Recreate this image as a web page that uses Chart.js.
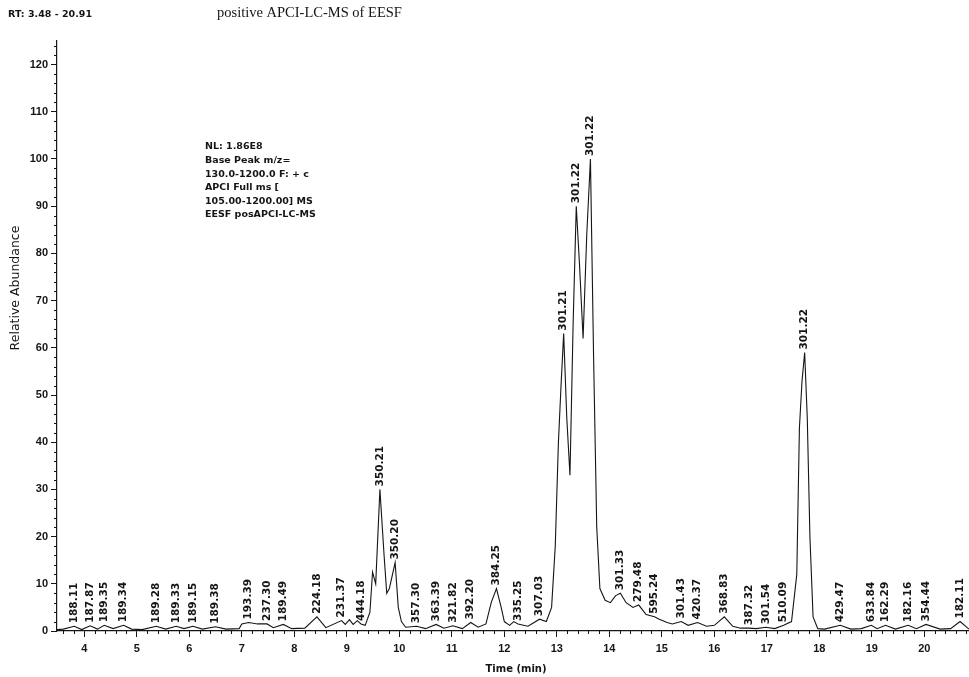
<!DOCTYPE html>
<html>
<head>
<meta charset="utf-8">
<script src="https://cdn.jsdelivr.net/npm/chart.js@4.4.1/dist/chart.umd.min.js"></script>
<style>
  html, body { margin: 0; padding: 0; background: #fff; overflow: hidden; }
  #wrap { position: relative; width: 969px; height: 677px; }
  canvas { display: block; }
</style>
</head>
<body>
<div id="wrap"><canvas id="chart" width="969" height="677"></canvas></div>
<script>
// Base peak chromatogram, retention time (min) vs relative abundance (%)
const rtTimes = [
  3.48, 3.6, 3.81, 3.95, 4.11, 4.25, 4.38, 4.55, 4.75, 4.9, 5.1, 5.37, 5.55, 5.75, 5.9,
  6.07, 6.25, 6.5, 6.7, 6.95, 7.0, 7.13, 7.3, 7.48, 7.6, 7.79, 7.95, 8.2, 8.43, 8.6,
  8.9, 8.97, 9.05, 9.12, 9.2, 9.27, 9.35, 9.44, 9.49, 9.55, 9.63, 9.71, 9.76, 9.81, 9.92,
  9.98, 10.04, 10.12, 10.33, 10.5, 10.7, 10.85, 11.02, 11.2, 11.36, 11.5, 11.65, 11.75, 11.85, 11.94,
  12.0, 12.1, 12.18, 12.26, 12.45, 12.67, 12.8, 12.9, 12.97, 13.03, 13.08, 13.13, 13.19, 13.25, 13.31,
  13.37, 13.43, 13.5, 13.57, 13.64, 13.7, 13.76, 13.82, 13.92, 14.02, 14.12, 14.21, 14.32, 14.45, 14.56,
  14.7, 14.86, 14.95, 15.1, 15.2, 15.37, 15.5, 15.68, 15.85, 16.0, 16.19, 16.35, 16.5, 16.66, 16.8,
  16.98, 17.15, 17.32, 17.47, 17.57, 17.62, 17.67, 17.72, 17.77, 17.82, 17.88, 17.97, 18.1, 18.4, 18.6,
  18.8, 18.99, 19.1, 19.26, 19.45, 19.69, 19.85, 20.03, 20.3, 20.5, 20.68, 20.85
];
const abundance = [
  0.3, 0.4, 1.0, 0.3, 1.1, 0.4, 1.2, 0.5, 1.2, 0.4, 0.3, 1.0, 0.4, 1.0, 0.5,
  1.0, 0.4, 0.9, 0.4, 0.5, 1.5, 1.8, 1.5, 1.5, 0.7, 1.4, 0.5, 0.6, 3.0, 0.7,
  2.2, 1.4, 2.4, 1.4, 2.2, 1.5, 1.2, 4.0, 12.5, 10.0, 30.0, 16.0, 8.0, 9.0, 14.5,
  5.0, 2.0, 0.8, 1.0, 0.5, 1.4, 0.6, 1.1, 0.5, 1.8, 0.8, 1.5, 6.0, 9.0, 5.0,
  2.0, 1.2, 2.0, 1.5, 1.0, 2.5, 2.0, 5.0, 18.0, 40.0, 52.0, 63.0, 45.0, 33.0, 65.0,
  90.0, 78.0, 62.0, 84.0, 100.0, 58.0, 22.0, 9.0, 6.5, 6.0, 7.5, 8.0, 6.0, 5.0, 5.5,
  3.5, 3.0, 2.5, 1.8, 1.5, 2.0, 1.2, 1.8, 1.0, 1.2, 3.0, 1.0, 0.6, 0.6, 0.5,
  0.8, 0.5, 1.2, 2.0, 12.0, 43.0, 53.0, 59.0, 45.0, 20.0, 3.0, 0.5, 0.4, 1.2, 0.4,
  0.5, 1.2, 0.5, 1.2, 0.4, 1.2, 0.5, 1.4, 0.4, 0.5, 2.0, 0.4
];

// Labelled peaks: apex retention time, apex height and base peak m/z
const peakRT = [
  3.81, 4.11, 4.38, 4.75, 5.37, 5.75, 6.07, 6.5, 7.13, 7.48, 7.79, 8.43, 8.9, 9.27,
  9.63, 9.92, 10.33, 10.7, 11.02, 11.36, 11.85, 12.26, 12.67, 13.13, 13.37, 13.64,
  14.21, 14.56, 14.86, 15.37, 15.68, 16.19, 16.66, 16.98, 17.32, 17.72,
  18.4, 18.99, 19.26, 19.69, 20.03, 20.68
];
const peakHeight = [
  1.0, 1.1, 1.2, 1.2, 1.0, 1.0, 1.0, 0.9, 1.8, 1.5, 1.4, 3.0, 2.2, 1.5,
  30.0, 14.5, 1.0, 1.4, 1.1, 1.8, 9.0, 1.5, 2.5, 63.0, 90.0, 100.0,
  8.0, 5.5, 3.0, 2.0, 1.8, 3.0, 0.6, 0.8, 1.2, 59.0,
  1.2, 1.2, 1.2, 1.2, 1.4, 2.0
];
const peakMass = [
  '188.11', '187.87', '189.35', '189.34', '189.28', '189.33', '189.15', '189.38', '193.39', '237.30', '189.49', '224.18', '231.37', '444.18',
  '350.21', '350.20', '357.30', '363.39', '321.82', '392.20', '384.25', '335.25', '307.03', '301.21', '301.22', '301.22',
  '301.33', '279.48', '595.24', '301.43', '420.37', '368.83', '387.32', '301.54', '510.09', '301.22',
  '429.47', '633.84', '162.29', '182.16', '354.44', '182.11'
];

// Axis ticks
const xTickValues = [4, 5, 6, 7, 8, 9, 10, 11, 12, 13, 14, 15, 16, 17, 18, 19, 20];
const yTickValues = [0, 10, 20, 30, 40, 50, 60, 70, 80, 90, 100, 110, 120];

// Header and instrument annotation text
const rtRangeText = 'RT: 3.48 - 20.91';
const titleText = 'positive APCI-LC-MS of EESF';
const xAxisTitle = 'Time (min)';
const yAxisTitle = 'Relative Abundance';
const infoLines = [
  'NL: 1.86E8',
  'Base Peak m/z=',
  '130.0-1200.0 F: + c',
  'APCI Full ms [',
  '105.00-1200.00] MS',
  'EESF posAPCI-LC-MS'
];

const INK = '#151515';
const SANS = '"DejaVu Sans", "Liberation Sans", sans-serif';
const ARIAL = '"Liberation Sans", Arial, sans-serif';
const SERIF = '"Liberation Serif", "Times New Roman", serif';

const points = rtTimes.map((t, i) => ({ x: t, y: abundance[i] }));

// Minor tick marks along both axes
const minorTicks = {
  id: 'minorTicks',
  afterDraw(chart) {
    const { ctx, scales: { x, y }, chartArea } = chart;
    ctx.save();
    ctx.strokeStyle = INK;
    ctx.lineWidth = 1;
    ctx.beginPath();
    for (let v = 2; v <= 124; v += 2) {
      if (v % 10 === 0) continue;
      const py = Math.round(y.getPixelForValue(v)) + 0.5;
      ctx.moveTo(chartArea.left - 3, py);
      ctx.lineTo(chartArea.left, py);
    }
    for (let k = 18; k <= 104; k++) {
      if (k % 5 === 0) continue;
      const px = Math.round(x.getPixelForValue(k / 5)) + 0.5;
      ctx.moveTo(px, chartArea.bottom);
      ctx.lineTo(px, chartArea.bottom + 3);
    }
    ctx.stroke();
    ctx.restore();
  }
};

// Rotated m/z labels above each peak apex
const peakLabels = {
  id: 'peakLabels',
  afterDatasetsDraw(chart) {
    const { ctx, scales: { x, y } } = chart;
    ctx.save();
    ctx.fillStyle = INK;
    ctx.font = 'bold 10.5px ' + SANS;
    ctx.textAlign = 'left';
    ctx.textBaseline = 'middle';
    peakRT.forEach((t, i) => {
      const px = x.getPixelForValue(t);
      const py = y.getPixelForValue(peakHeight[i]) - 3;
      ctx.save();
      ctx.translate(px, py);
      ctx.rotate(-Math.PI / 2);
      ctx.fillText(peakMass[i], 0, 0);
      ctx.restore();
    });
    ctx.restore();
  }
};

// Header lines, axis titles and the normalisation block
const annotations = {
  id: 'annotations',
  afterDraw(chart) {
    const { ctx } = chart;
    ctx.save();
    ctx.fillStyle = INK;
    ctx.textBaseline = 'middle';
    ctx.textAlign = 'left';
    ctx.font = 'bold 9.5px ' + SANS;
    ctx.fillText(rtRangeText, 8, 15);
    ctx.font = '14.5px ' + SERIF;
    ctx.fillText(titleText, 217, 13);
    ctx.font = 'bold 9.5px ' + SANS;
    infoLines.forEach((line, i) => {
      ctx.fillText(line, 205, 147 + i * 13.6);
    });
    ctx.textAlign = 'center';
    ctx.font = 'bold 10px ' + SANS;
    ctx.fillText(xAxisTitle, 516, 669);
    ctx.save();
    ctx.translate(16, 288);
    ctx.rotate(-Math.PI / 2);
    ctx.font = '12.5px ' + SANS;
    ctx.fillText(yAxisTitle, 0, 0);
    ctx.restore();
    ctx.restore();
  }
};

new Chart(document.getElementById('chart'), {
  type: 'line',
  data: {
    datasets: [{
      data: points,
      borderColor: INK,
      borderWidth: 1.1,
      pointRadius: 0,
      tension: 0,
      fill: false
    }]
  },
  options: {
    responsive: false,
    animation: false,
    events: [],
    layout: { padding: { top: 41, left: 0, right: 0, bottom: 0 } },
    plugins: { legend: { display: false }, tooltip: { enabled: false } },
    scales: {
      x: {
        type: 'linear',
        min: 3.48,
        max: 20.85,
        afterBuildTicks(scale) { scale.ticks = xTickValues.map(v => ({ value: v })); },
        afterFit(scale) { scale.height = 46; scale.paddingLeft = 0; scale.paddingRight = 0; },
        border: { display: true, color: INK, width: 1.2 },
        grid: { drawOnChartArea: false, drawTicks: true, tickLength: 6, color: INK, lineWidth: 1 },
        ticks: {
          color: INK,
          font: { family: ARIAL, size: 11, weight: 'bold' },
          padding: 5,
          maxRotation: 0,
          autoSkip: false,
          callback: v => String(v)
        }
      },
      y: {
        type: 'linear',
        min: 0,
        max: 125,
        afterBuildTicks(scale) { scale.ticks = yTickValues.map(v => ({ value: v })); },
        afterFit(scale) { scale.width = 57; },
        border: { display: true, color: INK, width: 1.2 },
        grid: { drawOnChartArea: false, drawTicks: true, tickLength: 6, color: INK, lineWidth: 1 },
        ticks: {
          color: INK,
          font: { family: ARIAL, size: 11, weight: 'bold' },
          padding: 3,
          autoSkip: false,
          callback: v => String(v)
        }
      }
    }
  },
  plugins: [minorTicks, peakLabels, annotations]
});
</script>
</body>
</html>
